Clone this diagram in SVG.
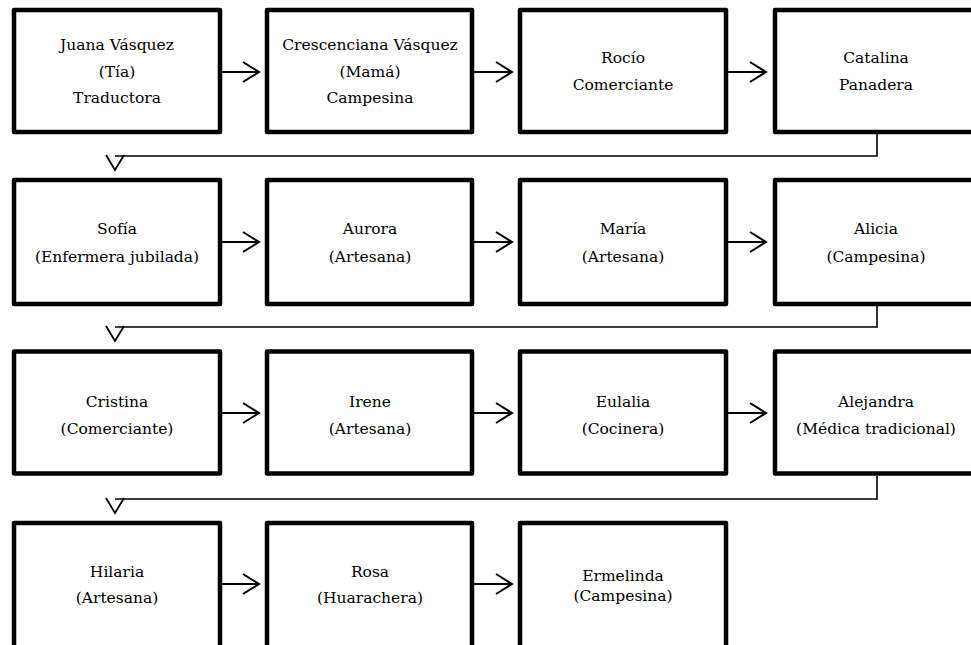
<svg xmlns="http://www.w3.org/2000/svg" width="971" height="645" viewBox="0 0 971 645">
<style>
.box{fill:#fff;stroke:#000;stroke-width:4.5;stroke-linejoin:round}
.t{font-family:"DejaVu Serif","Liberation Serif",serif;font-size:15.5px;text-anchor:middle;fill:#000}
.c{fill:none;stroke:#000;stroke-width:1.6}
.h{fill:none;stroke:#000;stroke-width:1.8}
</style>
<defs>
<marker id="ar" markerUnits="userSpaceOnUse" markerWidth="20" markerHeight="24" refX="18" refY="11" orient="auto" overflow="visible">
<path d="M2,1 L18,11 L2,21" fill="none" stroke="#000" stroke-width="2"/>
</marker>
<marker id="dn" markerUnits="userSpaceOnUse" markerWidth="22" markerHeight="20" refX="10" refY="1" orient="0" overflow="visible">
<path d="M1,0 L10,15 L19,0" fill="none" stroke="#000" stroke-width="1.8"/>
</marker>
</defs>
<g id="connectors">
<line class="h" x1="222" y1="72" x2="259" y2="72" marker-end="url(#ar)"/>
<line class="h" x1="474" y1="72" x2="512" y2="72" marker-end="url(#ar)"/>
<line class="h" x1="728" y1="72" x2="766" y2="72" marker-end="url(#ar)"/>
<polyline class="c" points="877,134 877,156 115,156" marker-end="url(#dn)"/>
<line class="h" x1="222" y1="242" x2="259" y2="242" marker-end="url(#ar)"/>
<line class="h" x1="474" y1="242" x2="512" y2="242" marker-end="url(#ar)"/>
<line class="h" x1="728" y1="242" x2="766" y2="242" marker-end="url(#ar)"/>
<polyline class="c" points="877,306 877,327 115,327" marker-end="url(#dn)"/>
<line class="h" x1="222" y1="413" x2="259" y2="413" marker-end="url(#ar)"/>
<line class="h" x1="474" y1="413" x2="512" y2="413" marker-end="url(#ar)"/>
<line class="h" x1="728" y1="413" x2="766" y2="413" marker-end="url(#ar)"/>
<polyline class="c" points="877,476 877,499 115,499" marker-end="url(#dn)"/>
<line class="h" x1="222" y1="584" x2="259" y2="584" marker-end="url(#ar)"/>
<line class="h" x1="474" y1="584" x2="512" y2="584" marker-end="url(#ar)"/>
</g>
<g id="n1"><rect class="box" x="14" y="10" width="206" height="122"/><text class="t" x="117" y="50">Juana Vásquez</text><text class="t" x="117" y="77">(Tía)</text><text class="t" x="117" y="103">Traductora</text></g>
<g id="n2"><rect class="box" x="267" y="10" width="205" height="122"/><text class="t" x="370" y="50">Crescenciana Vásquez</text><text class="t" x="370" y="77">(Mamá)</text><text class="t" x="370" y="103">Campesina</text></g>
<g id="n3"><rect class="box" x="520" y="10" width="206" height="122"/><text class="t" x="623" y="63">Rocío</text><text class="t" x="623" y="90">Comerciante</text></g>
<g id="n4"><rect class="box" x="775" y="10" width="202" height="122"/><text class="t" x="876" y="63">Catalina</text><text class="t" x="876" y="90">Panadera</text></g>
<g id="n5"><rect class="box" x="14" y="180" width="206" height="124"/><text class="t" x="117" y="234">Sofía</text><text class="t" x="117" y="262">(Enfermera jubilada)</text></g>
<g id="n6"><rect class="box" x="267" y="180" width="205" height="124"/><text class="t" x="370" y="234">Aurora</text><text class="t" x="370" y="262">(Artesana)</text></g>
<g id="n7"><rect class="box" x="520" y="180" width="206" height="124"/><text class="t" x="623" y="234">María</text><text class="t" x="623" y="262">(Artesana)</text></g>
<g id="n8"><rect class="box" x="775" y="180" width="202" height="124"/><text class="t" x="876" y="234">Alicia</text><text class="t" x="876" y="262">(Campesina)</text></g>
<g id="n9"><rect class="box" x="14" y="351.5" width="206" height="122"/><text class="t" x="117" y="407">Cristina</text><text class="t" x="117" y="434">(Comerciante)</text></g>
<g id="n10"><rect class="box" x="267" y="351.5" width="205" height="122"/><text class="t" x="370" y="407">Irene</text><text class="t" x="370" y="434">(Artesana)</text></g>
<g id="n11"><rect class="box" x="520" y="351.5" width="206" height="122"/><text class="t" x="623" y="407">Eulalia</text><text class="t" x="623" y="434">(Cocinera)</text></g>
<g id="n12"><rect class="box" x="775" y="351.5" width="202" height="122"/><text class="t" x="876" y="407">Alejandra</text><text class="t" x="876" y="434">(Médica tradicional)</text></g>
<g id="n13"><rect class="box" x="14" y="523" width="206" height="130"/><text class="t" x="117" y="577">Hilaria</text><text class="t" x="117" y="603">(Artesana)</text></g>
<g id="n14"><rect class="box" x="267" y="523" width="205" height="130"/><text class="t" x="370" y="577">Rosa</text><text class="t" x="370" y="603">(Huarachera)</text></g>
<g id="n15"><rect class="box" x="520" y="523" width="206" height="130"/><text class="t" x="623" y="581">Ermelinda</text><text class="t" x="623" y="601">(Campesina)</text></g>
</svg>
